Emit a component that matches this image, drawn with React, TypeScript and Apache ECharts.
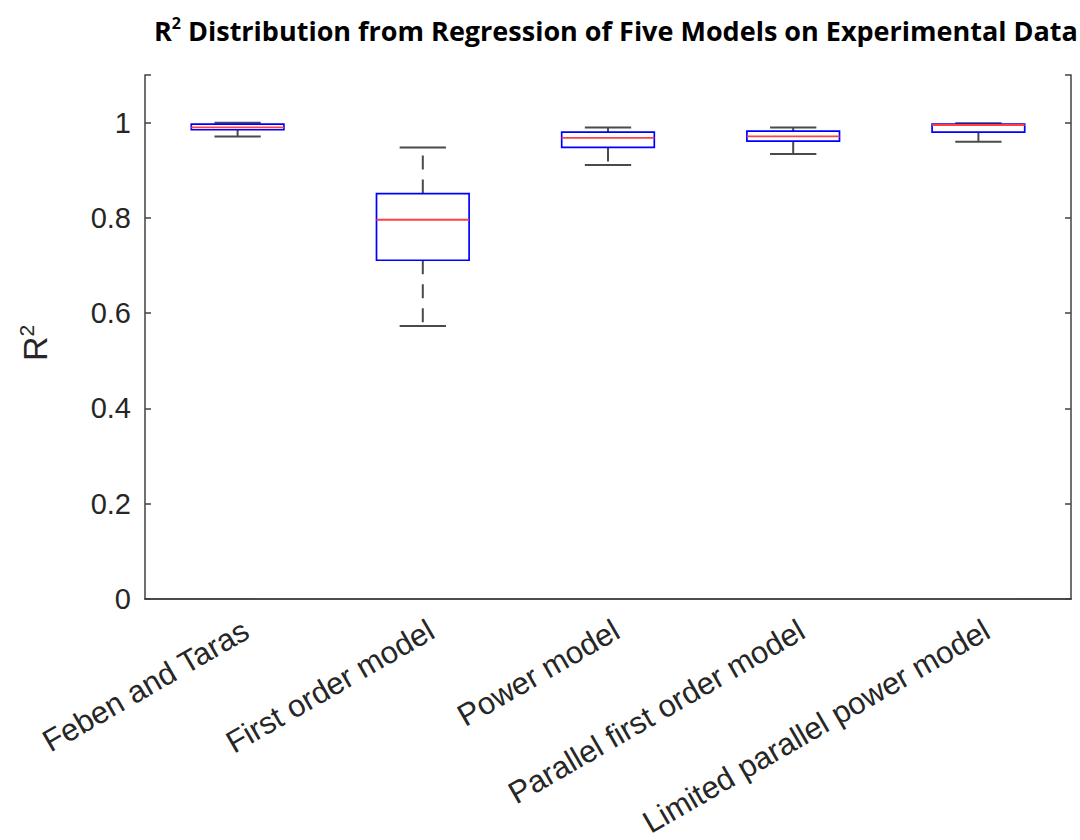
import React, { useEffect, useRef } from "react";
import * as echarts from "echarts";

// Model names along the category axis
const models = [
  "Feben and Taras",
  "First order model",
  "Power model",
  "Parallel first order model",
  "Limited parallel power model",
];

// Five-number summaries of R² for each model
const whiskerLow = [0.971, 0.573, 0.911, 0.934, 0.960];
const quartile1 = [0.985, 0.711, 0.948, 0.961, 0.980];
const medians = [0.990, 0.796, 0.968, 0.971, 0.995];
const quartile3 = [0.997, 0.851, 0.980, 0.982, 0.997];
const whiskerHigh = [0.9995, 0.948, 0.990, 0.990, 0.9986];

const yTicks = [0, 0.2, 0.4, 0.6, 0.8, 1];

const axisColor = "#404040";
const textColor = "#262626";
const tickFont = "'Liberation Sans', Arial, sans-serif";
const titleFont = "'Open Sans', 'Noto Sans', sans-serif";

export default function App() {
  const ref = useRef<HTMLDivElement | null>(null);

  useEffect(() => {
    if (!ref.current) return;
    const chart = echarts.init(ref.current, undefined, { renderer: "svg" });

    const data = models.map((_, i) => [
      i,
      whiskerLow[i],
      quartile1[i],
      medians[i],
      quartile3[i],
      whiskerHigh[i],
    ]);

    const renderBox = (params: any, api: any) => {
      const idx = api.value(0);
      const band = api.size([1, 0])[0];
      const boxHalf = band * 0.25;
      const capHalf = band * 0.125;
      const pLow = api.coord([idx, api.value(1)]);
      const pQ1 = api.coord([idx, api.value(2)]);
      const pMed = api.coord([idx, api.value(3)]);
      const pQ3 = api.coord([idx, api.value(4)]);
      const pHigh = api.coord([idx, api.value(5)]);
      const cx = pMed[0];
      const whiskerStyle = {
        stroke: "#4a4a4a",
        lineWidth: 2,
        lineDash: [14, 10],
      };
      const capStyle = { stroke: "#4a4a4a", lineWidth: 2 };
      return {
        type: "group",
        children: [
          {
            type: "line",
            shape: { x1: cx, y1: pQ3[1], x2: cx, y2: pHigh[1] },
            style: whiskerStyle,
          },
          {
            type: "line",
            shape: { x1: cx, y1: pQ1[1], x2: cx, y2: pLow[1] },
            style: whiskerStyle,
          },
          {
            type: "line",
            shape: { x1: cx - capHalf, y1: pHigh[1], x2: cx + capHalf, y2: pHigh[1] },
            style: capStyle,
          },
          {
            type: "line",
            shape: { x1: cx - capHalf, y1: pLow[1], x2: cx + capHalf, y2: pLow[1] },
            style: capStyle,
          },
          {
            type: "rect",
            shape: {
              x: cx - boxHalf,
              y: pQ3[1],
              width: boxHalf * 2,
              height: pQ1[1] - pQ3[1],
            },
            style: { fill: "rgba(255,255,255,0)", stroke: "#0000ff", lineWidth: 1.7 },
          },
          {
            type: "line",
            shape: { x1: cx - boxHalf, y1: pMed[1], x2: cx + boxHalf, y2: pMed[1] },
            style: { stroke: "#ff4040", lineWidth: 1.8 },
          },
        ],
      };
    };

    chart.setOption({
      animation: false,
      backgroundColor: "#ffffff",
      title: {
        text: "{b|R}{s|2}{b| Distribution from Regression of Five Models on Experimental Data}",
        left: 149,
        top: 10,
        textStyle: {
          rich: {
            b: {
              fontFamily: titleFont,
              fontWeight: "bold",
              fontSize: 27,
              color: "#000000",
              lineHeight: 30,
            },
            s: {
              fontFamily: titleFont,
              fontWeight: "bold",
              fontSize: 16,
              color: "#000000",
              verticalAlign: "top",
              lineHeight: 30,
              padding: [0, 0, 10, 0],
            },
          },
        },
      },
      grid: { left: 145, right: 9, top: 75, bottom: 240, containLabel: false },
      xAxis: [
        {
          type: "category",
          data: models,
          position: "bottom",
          boundaryGap: true,
          axisLine: { lineStyle: { color: axisColor, width: 1.5 } },
          axisTick: {
            inside: true,
            alignWithLabel: true,
            length: 6,
            lineStyle: { color: axisColor, width: 1.5 },
          },
          axisLabel: {
            rotate: 30,
            interval: 0,
            margin: 34,
            fontSize: 31,
            fontFamily: tickFont,
            color: textColor,
            padding: [0, -10, 0, 0],
          },
        },
        {
          type: "category",
          data: models,
          position: "top",
          boundaryGap: true,
          axisLine: { lineStyle: { color: axisColor, width: 1.5 } },
          axisTick: {
            inside: true,
            alignWithLabel: true,
            length: 6,
            lineStyle: { color: axisColor, width: 1.5 },
          },
          axisLabel: { show: false },
        },
      ],
      yAxis: [
        {
          type: "value",
          min: 0,
          max: 1.1,
          interval: 0.2,
          position: "left",
          name: "{r|R}{s|2}",
          nameLocation: "middle",
          nameRotate: 90,
          nameGap: 91,
          nameTextStyle: {
            padding: [0, 12, 0, 0],
            rich: {
              r: { fontSize: 34, fontFamily: tickFont, color: textColor, lineHeight: 38 },
              s: {
                fontSize: 21,
                fontFamily: tickFont,
                color: textColor,
                verticalAlign: "top",
                lineHeight: 38,
                padding: [0, 0, 14, 0],
              },
            },
          },
          axisLine: { show: true, lineStyle: { color: axisColor, width: 1.5 } },
          axisTick: {
            show: true,
            inside: true,
            length: 6,
            lineStyle: { color: axisColor, width: 1.5 },
          },
          splitLine: { show: false },
          axisLabel: {
            margin: 14,
            fontSize: 29,
            fontFamily: tickFont,
            color: textColor,
            formatter: (v: number) =>
              yTicks.some((t) => Math.abs(t - v) < 1e-9) ? String(+v.toFixed(1)) : "",
          },
        },
        {
          type: "value",
          min: 0,
          max: 1.1,
          interval: 0.2,
          position: "right",
          axisLine: { show: true, lineStyle: { color: axisColor, width: 1.5 } },
          axisTick: {
            show: true,
            inside: true,
            length: 6,
            lineStyle: { color: axisColor, width: 1.5 },
          },
          splitLine: { show: false },
          axisLabel: { show: false },
        },
      ],
      series: [
        {
          type: "custom",
          xAxisIndex: 0,
          yAxisIndex: 0,
          renderItem: renderBox,
          encode: { x: 0, y: [1, 2, 3, 4, 5] },
          data,
          clip: false,
        },
      ],
    });

    return () => chart.dispose();
  }, []);

  return (
    <div
      ref={ref}
      style={{ position: "absolute", left: 0, top: 0, width: 1080, height: 840 }}
    />
  );
}
